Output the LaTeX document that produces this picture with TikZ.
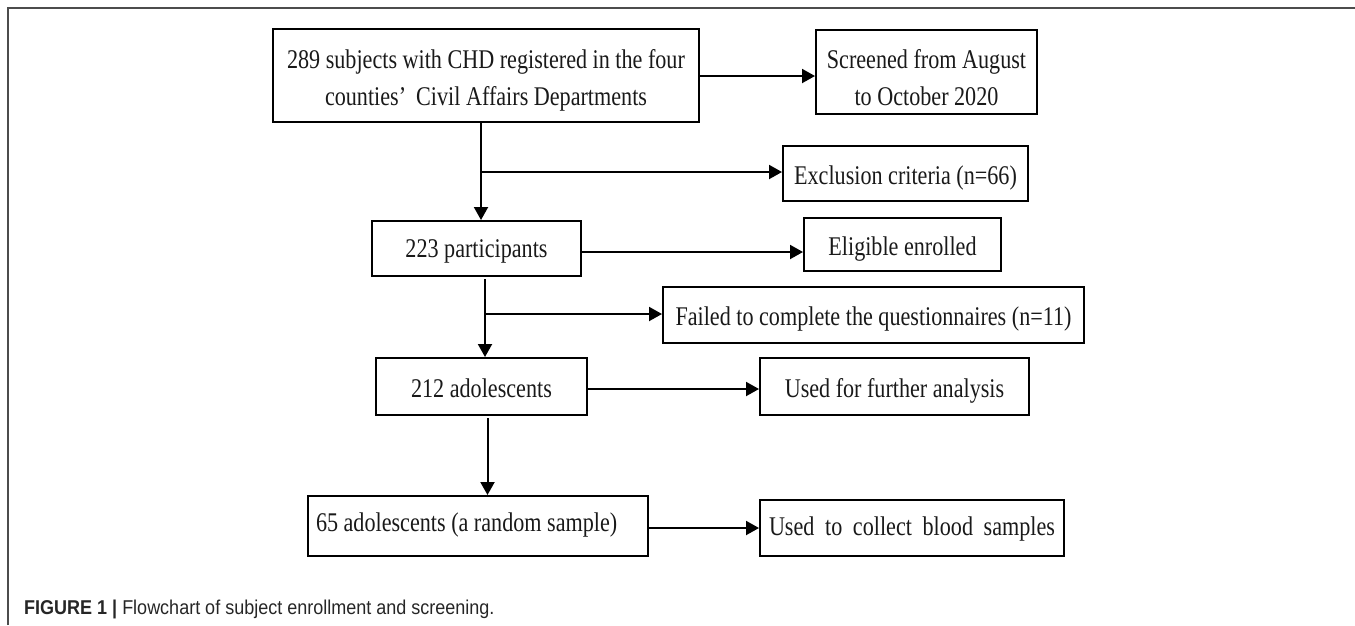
\documentclass[tikz,border=0pt]{standalone}
\usepackage{fontspec}
\setmainfont{Liberation Serif}[FakeStretch=0.82]
\newfontfamily\capfont{Liberation Sans}[FakeStretch=0.9]
\usetikzlibrary{arrows.meta}
\tikzset{
  box/.style={draw=black, line width=2pt, inner sep=0pt, font=\fontsize{27}{37}\selectfont, text=black!90, align=center},
  onebox/.style={box, text height=26pt, text depth=5pt},
  conn/.style={line width=2pt, draw=black},
  arr/.style={conn, -{Triangle[length=13pt,width=14pt]}},
  frameline/.style={line width=1.6pt, draw=black!70}
}
\begin{document}
\begin{tikzpicture}[x=1pt,y=-1pt]
\useasboundingbox (0,0) rectangle (1355,625);
% frame
\draw[frameline] (8,625) -- (8,8) -- (1355,8);
% boxes
\node[box, minimum width=426pt, minimum height=93pt, text height=64pt, text depth=5pt] (b1) at (486,75.5) {289 subjects with CHD registered in the four\\counties'\, Civil Affairs Departments};
\node[box, minimum width=221pt, minimum height=84pt, text height=71pt, text depth=5pt] (scr) at (926.5,72) {Screened from August\\to October 2020};
\node[onebox, minimum width=245pt, minimum height=55pt] (exc) at (905.5,173.5) {Exclusion criteria (n=66)};
\node[onebox, minimum width=209pt, minimum height=55pt, text height=22pt] (b223) at (476.5,248.5) {223 participants};
\node[onebox, minimum width=197pt, minimum height=53pt] (eli) at (902.5,244.5) {Eligible enrolled};
\node[onebox, minimum width=421pt, minimum height=56pt, text height=25pt] (fail) at (873.5,315) {Failed to complete the questionnaires (n=11)};
\node[onebox, minimum width=211pt, minimum height=57pt] (b212) at (481.5,386.5) {212 adolescents};
\node[onebox, minimum width=269pt, minimum height=57pt] (fur) at (894.5,386.5) {Used for further analysis};
\node[onebox, minimum width=340pt, minimum height=60pt, text height=15pt] (b65) at (478,526) {\makebox[324pt][l]{65 adolescents (a random sample)}};
\node[onebox, minimum width=304pt, minimum height=56pt, text height=19pt] (blood) at (912,528) {\makebox[286pt][s]{Used to collect blood samples}};
% branch coordinates
\coordinate (t1) at (481,122);
\coordinate (j1) at (481,172);
\coordinate (t2) at (485,279);
\coordinate (j2) at (485,314);
\coordinate (t3) at (487.5,418);
% connectors
\draw[arr] (b1.east |- 0,76) -- (scr.west |- 0,76);
\draw[arr] (t1) -- (t1 |- b223.north);
\draw[arr] (j1) -- (j1 -| exc.west);
\draw[arr] (b223.east |- 0,252) -- (eli.west |- 0,252);
\draw[arr] (t2) -- (t2 |- b212.north);
\draw[arr] (j2) -- (j2 -| fail.west);
\draw[arr] (b212.east |- 0,389) -- (fur.west |- 0,389);
\draw[arr] (t3) -- (t3 |- b65.north);
\draw[arr] (b65.east |- 0,528) -- (blood.west |- 0,528);
% caption
\node[anchor=base west, inner sep=0pt, font=\capfont\fontsize{20}{22}\selectfont, text=black!85] (cap) at (24,614) {\textbf{FIGURE 1 |} Flowchart of subject enrollment and screening.};
\end{tikzpicture}
\end{document}
